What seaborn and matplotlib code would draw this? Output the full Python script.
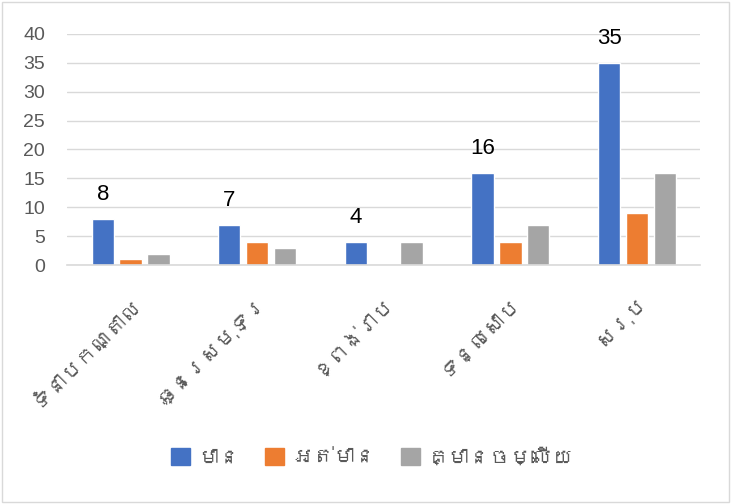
import matplotlib
matplotlib.use("Agg")
import matplotlib.pyplot as plt
from matplotlib import font_manager
from matplotlib.ft2font import FT2Font
import seaborn as sns
import pandas as pd

categories = ["ទំនាបកណ្តាល", "ឆ្នេរសមុទ្រ", "ខ្ពង់រាប", "ទន្លេសាប", "សរុប"]
series_names = ["មាន", "អត់មាន", "គ្មានចម្លើយ"]
has_vals = [8, 7, 4, 16, 35]
hasnot_vals = [1, 4, 0, 4, 9]
noanswer_vals = [2, 3, 4, 7, 16]
yticks = [0, 5, 10, 15, 20, 25, 30, 35, 40]
colors = ["#4472C4", "#ED7D31", "#A5A5A5"]

sns.set_theme(style="white")

# find a font with Khmer glyphs if any is installed
khmer_family = None
for f in font_manager.fontManager.ttflist:
    try:
        cm = FT2Font(f.fname).get_charmap()
        if 0x1798 in cm and 0x17B6 in cm:
            khmer_family = f.name
            break
    except Exception:
        pass
fams = ([khmer_family] if khmer_family else []) + ["DejaVu Sans"]
plt.rcParams["font.family"] = fams

df = pd.DataFrame({
    "category": categories * 3,
    "series": sum([[s] * len(categories) for s in series_names], []),
    "value": has_vals + hasnot_vals + noanswer_vals,
})

fig = plt.figure(figsize=(7.31, 5.04), dpi=100)
ax = fig.add_axes([0.092, 0.474, 0.866, 0.459])
sns.barplot(data=df, x="category", y="value", hue="series", order=categories,
            hue_order=series_names, palette=colors, width=0.66, gap=0.2,
            ax=ax, legend=True, saturation=1)

num_font = ["Liberation Sans", "DejaVu Sans"]
ax.set_ylim(0, 40)
ax.set_yticks(yticks)
ax.set_yticklabels([str(t) for t in yticks], fontsize=14, color="#595959",
                   family=num_font)
ax.yaxis.grid(True, color="#D9D9D9", linewidth=1)
ax.set_axisbelow(True)
for s in ["top", "right", "left"]:
    ax.spines[s].set_visible(False)
ax.spines["bottom"].set_color("#D9D9D9")
ax.spines["bottom"].set_linewidth(1.2)
ax.tick_params(axis="both", length=0)
ax.tick_params(axis="y", pad=16)
ax.set_xlabel("")
ax.set_ylabel("")
ax.set_xticks(range(len(categories)))
ax.set_xticklabels(categories, rotation=45, ha="right", rotation_mode="anchor",
                   fontsize=15, color="#595959")
ax.tick_params(axis="x", pad=20)

# data labels on first series
ax.bar_label(ax.containers[0], labels=[str(v) for v in has_vals], fontsize=16,
             padding=10, color="black", family=num_font)

ax.legend_.remove()
handles = [plt.Rectangle((0, 0), 1, 1, color=c) for c in colors]
fig.legend(handles, series_names, loc="center", bbox_to_anchor=(0.51, 0.093),
           ncol=3, frameon=False, fontsize=15, handlelength=0.9, handleheight=0.9,
           columnspacing=1.2, handletextpad=0.4, labelcolor="#595959")

border = plt.Rectangle((0.003, 0.003), 0.994, 0.994, transform=fig.transFigure,
                       fill=False, edgecolor="#D9D9D9", linewidth=1)
fig.patches.append(border)

fig.savefig("out.png", dpi=100, facecolor="white")
